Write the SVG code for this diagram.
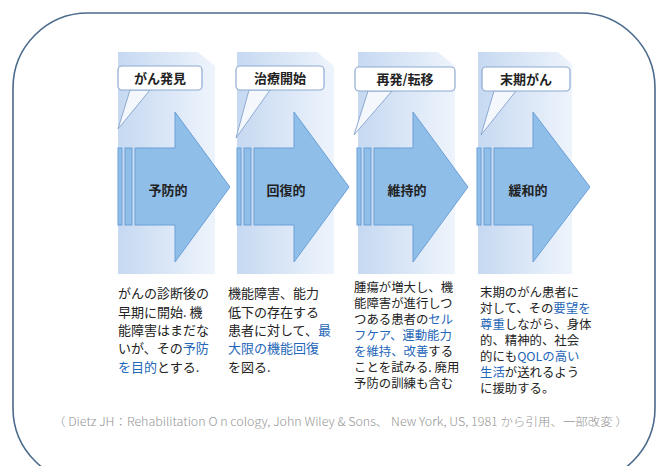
<svg xmlns="http://www.w3.org/2000/svg" width="658" height="466" viewBox="0 0 658 466">
<defs>
<linearGradient id="colg" x1="0" y1="0" x2="1" y2="0">
<stop offset="0" stop-color="#c6d9f1"/>
<stop offset="1" stop-color="#eef4fc"/>
</linearGradient>
<style>
.col{fill:url(#colg);}
.arr{fill:#8fbfe9;stroke:#6b9fd6;stroke-width:1;}
.call{fill:#ffffff;stroke:#8ea9d2;stroke-width:1.2;}
.tail{fill:#f4f8fd;stroke:#8ea9d2;stroke-width:1;}
.lab{font-family:"Noto Sans CJK JP","Noto Sans",sans-serif;font-size:13px;font-weight:bold;fill:#222;text-anchor:middle;}
.body{font-family:"Noto Sans CJK JP","Noto Sans",sans-serif;fill:#222;}
.b13{font-size:13px;}
.b12{font-size:12.4px;}
.blue{fill:#2466b8;}
.cite{font-family:"Noto Sans CJK JP","Noto Sans",sans-serif;font-size:11.5px;font-weight:300;fill:#949494;}
</style>
</defs>
<rect width="658" height="466" fill="#ffffff"/>
<rect id="frame" x="13" y="13" width="642" height="470" rx="75" ry="75" fill="none" stroke="#4b6b8c" stroke-width="1.6"/>

<g id="stage1">
<path class="col" d="M118,52 H198 L215,66 V274 H118 Z"/>
<rect class="arr" x="118" y="148" width="4" height="77"/>
<rect class="arr" x="125" y="148" width="7" height="77"/>
<path class="arr" d="M135,148 H175 V112 L230,187 L175,262 V225 H135 Z"/>
<path class="tail" d="M130,90 L118,129 L150,90 Z"/>
<rect class="call" x="118" y="66" width="84" height="24" rx="4"/>
<text class="lab" x="160" y="83">がん発見</text>
<text class="lab" x="168" y="195">予防的</text>
<text class="body b13" x="118" y="298">がんの診断後の</text>
<text class="body b13" x="118" y="317">早期に開始. 機</text>
<text class="body b13" x="118" y="335">能障害はまだな</text>
<text class="body b13" x="118" y="353">いが、その<tspan class="blue">予防</tspan></text>
<text class="body b13" x="118" y="372"><tspan class="blue">を目的</tspan>とする.</text>
</g>

<g id="stage2">
<path class="col" d="M237,52 H317 L334,66 V274 H237 Z"/>
<rect class="arr" x="237" y="148" width="4" height="77"/>
<rect class="arr" x="244" y="148" width="7" height="77"/>
<path class="arr" d="M254,148 H294 V112 L349,187 L294,262 V225 H254 Z"/>
<path class="tail" d="M249,90 L236,138 L270,90 Z"/>
<rect class="call" x="236" y="66" width="88" height="24" rx="4"/>
<text class="lab" x="280" y="83">治療開始</text>
<text class="lab" x="286" y="195">回復的</text>
<text class="body b13" x="228" y="298">機能障害、能力</text>
<text class="body b13" x="228" y="317">低下の存在する</text>
<text class="body b13" x="228" y="335">患者に対して、<tspan class="blue">最</tspan></text>
<text class="body b13 blue" x="228" y="353">大限の機能回復</text>
<text class="body b13" x="228" y="372">を図る.</text>
</g>

<g id="stage3">
<path class="col" d="M358,52 H438 L455,66 V274 H358 Z"/>
<rect class="arr" x="357" y="148" width="4" height="77"/>
<rect class="arr" x="364" y="148" width="7" height="77"/>
<path class="arr" d="M374,148 H413 V112 L468,187 L413,262 V225 H374 Z"/>
<path class="tail" d="M368,91 L354,135 L392,91 Z"/>
<rect class="call" x="355" y="67" width="100" height="24" rx="4"/>
<text class="lab" x="405" y="84">再発/転移</text>
<text class="lab" x="407" y="195">維持的</text>
<text class="body b12" x="354" y="292">腫瘍が増大し、機</text>
<text class="body b12" x="354" y="308">能障害が進行しつ</text>
<text class="body b12" x="354" y="324">つある患者の<tspan class="blue">セル</tspan></text>
<text class="body b12 blue" x="354" y="340">フケア、運動能力</text>
<text class="body b12" x="354" y="356"><tspan class="blue">を維持、改善</tspan>する</text>
<text class="body b12" x="354" y="372">ことを試みる. 廃用</text>
<text class="body b12" x="354" y="388">予防の訓練も含む</text>
</g>

<g id="stage4">
<path class="col" d="M478,52 H558 L572,64 V274 H478 Z"/>
<rect class="arr" x="477" y="148" width="4" height="77"/>
<rect class="arr" x="484" y="148" width="7" height="77"/>
<path class="arr" d="M494,148 H533 V112 L590,187 L533,262 V225 H494 Z"/>
<path class="tail" d="M494,91 L481,135 L516,91 Z"/>
<rect class="call" x="482" y="67" width="88" height="24" rx="4"/>
<text class="lab" x="526" y="84">末期がん</text>
<text class="lab" x="528" y="195">緩和的</text>
<text class="body b12" x="480" y="297">末期のがん患者に</text>
<text class="body b12" x="480" y="313">対して、その<tspan class="blue">要望を</tspan></text>
<text class="body b12" x="480" y="329"><tspan class="blue">尊重</tspan>しながら、身体</text>
<text class="body b12" x="480" y="345">的、精神的、社会</text>
<text class="body b12" x="480" y="361">的にも<tspan class="blue">QOLの高い</tspan></text>
<text class="body b12" x="480" y="377"><tspan class="blue">生活</tspan>が送れるよう</text>
<text class="body b12" x="480" y="393">に援助する。</text>
</g>

<text class="cite" x="53" y="426" textLength="575" lengthAdjust="spacingAndGlyphs">（ Dietz JH：Rehabilitation O n cology, John Wiley &amp; Sons、 New York, US, 1981 から引用、一部改変 ）</text>
</svg>
